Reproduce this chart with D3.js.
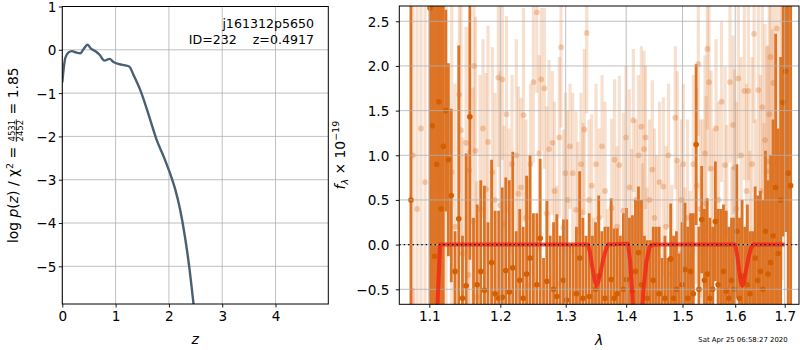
<!DOCTYPE html>
<html>
<head>
<meta charset="utf-8">
<script src="https://cdn.jsdelivr.net/npm/d3@7"></script>
<style>
  body { margin: 0; background: #fff; }
  svg { font-family: "DejaVu Sans", sans-serif; }
</style>
</head>
<body>
<svg id="chart" width="800" height="350"></svg>
<script>
// p(z) curve
const zGrid = [0, 0.056, 0.118, 0.18, 0.255, 0.337, 0.4, 0.474, 0.543, 0.63, 0.699, 0.79, 0.886, 0.96,
  1.067, 1.18, 1.255, 1.336, 1.46, 1.62, 1.77, 1.9, 2.02, 2.12, 2.21, 2.3, 2.38, 2.46, 2.5];
const logPz = [-0.75, -0.19, -0.06, -0.03, -0.06, -0.08, 0.02, 0.115, 0.02, -0.04, -0.115, -0.25, -0.21, -0.28,
  -0.33, -0.36, -0.385, -0.58, -0.92, -1.5, -2.08, -2.46, -2.85, -3.23, -3.69, -4.31, -5.0, -5.85, -6.3];

// spectrum, first orient (dark)
const darkWave = [1.0755, 1.1010, 1.1040, 1.1070, 1.1100, 1.1130, 1.1160, 1.1190, 1.1225, 1.1260,
  1.1300, 1.1352, 1.1404, 1.1456, 1.1508, 1.1560, 1.1612, 1.1664, 1.1716, 1.1768,
  1.1820, 1.1872, 1.1924, 1.1976, 1.2028, 1.2080, 1.2132, 1.2184, 1.2236, 1.2288,
  1.2340, 1.2392, 1.2444, 1.2496, 1.2548, 1.2600, 1.2652, 1.2704, 1.2756, 1.2808,
  1.2860, 1.2912, 1.2964, 1.3016, 1.3068, 1.3120, 1.3172, 1.3224, 1.3276, 1.3328,
  1.3380, 1.3432, 1.3484, 1.3536, 1.3588, 1.3640, 1.3692, 1.3744, 1.3796, 1.3848,
  1.3900, 1.3952, 1.4004, 1.4056, 1.4108, 1.4160, 1.4212, 1.4264, 1.4316, 1.4368,
  1.4420, 1.4472, 1.4524, 1.4576, 1.4628, 1.4680, 1.4732, 1.4784, 1.4836, 1.4888,
  1.4940, 1.4992, 1.5044, 1.5096, 1.5148, 1.5200, 1.5252, 1.5304, 1.5356, 1.5408,
  1.5460, 1.5512, 1.5564, 1.5616, 1.5668, 1.5720, 1.5772, 1.5824, 1.5876, 1.5928,
  1.5980, 1.6032, 1.6084, 1.6136, 1.6188, 1.6240, 1.6292, 1.6344, 1.6396, 1.6448,
  1.6500, 1.6552, 1.6604, 1.6656, 1.6708, 1.6760, 1.6812, 1.6864, 1.6916, 1.6968,
  1.7020, 1.7072, 1.7124];
const darkFlux = [0.5, 2.65, 1.33, -0.13, 0.9, 1.6, 0.4, 1.1, 1.5, 0.95,
  0.55, -0.3, 0.29, -0.6, -0.46, 1.43, -0.8, -0.45, -0.3, -0.51,
  -0.7, -0.2, -0.55, -0.6, -0.59, -0.29, -0.53, -0.26, -0.75, -0.4,
  -0.6, -0.33, -0.15, -0.7, -0.45, 0.07, -0.9, -0.41, -0.8, -0.5,
  -0.58, -0.7, -0.4, -0.62, -0.9, -0.7, -0.55, -0.15, -0.6, -0.85,
  -0.58, -0.8, -0.5, -0.35, -0.7, -0.6, -0.9, -0.39, -0.6, -0.55,
  -0.8, -0.5, -0.39, -0.9, -0.52, -0.3, -0.09, -0.45, -0.7, -0.6,
  -0.75, -0.4, -0.7, -0.55, -0.8, -0.6, -0.95, -0.16, -0.6, -0.5,
  -0.7, -0.45, -0.28, -0.6, -0.3, -0.55, 1.12, -0.5, 0.28, -0.4,
  -0.33, -0.6, -0.5, 0.26, -0.45, -0.7, -0.3, -0.52, -0.6, -0.4,
  -0.5, 0.15, -0.6, -0.35, -0.8, -0.45, -0.55, -0.7, -0.15, -0.4,
  -0.3, -0.5, 0.15, -0.33, -0.2, 0.1, 0.64, -0.1, 0.5, 1.59,
  1.94, 0.8, 0.66];
const darkErr = [5.0, 3.5, 3.0, 3.2, 3.0, 3.0, 3.0, 2.6, 1.13, 1.08,
  0.97, 0.45, 1.94, 0.7, 1.48, 1.6, 1.1, 0.9, 1.02, 1.17,
  0.95, 1.15, 0.93, 0.98, 1.23, 1.04, 1.25, 1.3, 0.9, 0.8,
  0.8, 1.1, 1.15, 1.05, 0.8, 0.89, 0.75, 0.9, 0.9, 0.75,
  0.92, 0.8, 0.68, 0.9, 0.9, 0.7, 0.75, 0.97, 0.9, 0.95,
  0.93, 0.9, 0.75, 0.9, 0.85, 0.8, 1.1, 0.91, 0.78, 0.73,
  0.9, 0.85, 0.8, 1.2, 0.85, 0.8, 0.74, 0.95, 0.8, 0.65,
  0.8, 0.6, 0.9, 0.75, 0.65, 0.7, 0.8, 0.62, 0.7, 0.65,
  0.6, 0.7, 0.75, 0.8, 0.65, 0.9, 0.9, 0.7, 0.6, 0.8,
  0.85, 0.9, 0.7, 0.67, 0.85, 1.1, 0.75, 0.9, 0.8, 0.7,
  0.8, 0.75, 0.9, 0.85, 1.0, 0.9, 0.7, 0.85, 0.8, 0.95,
  0.9, 1.0, 0.9, 1.05, 1.2, 1.3, 1.72, 1.4, 1.6, 1.5,
  1.8, 2.5, 2.2];

// spectrum, second orient (light)
const lightWave = [1.0783, 1.0836, 1.0888, 1.0943, 1.1050, 1.1104, 1.1131, 1.1182, 1.1227, 1.1306,
  1.1352, 1.1412, 1.1436, 1.1460, 1.1506, 1.1538, 1.1552, 1.1601, 1.1619, 1.1640,
  1.1657, 1.1705, 1.1748, 1.1791, 1.1820, 1.1883, 1.1922, 1.1970, 1.1995, 1.2029,
  1.2054, 1.2091, 1.2128, 1.2173, 1.2237, 1.2268, 1.2308, 1.2346, 1.2384, 1.2419,
  1.2452, 1.2495, 1.2547, 1.2586, 1.2617, 1.2664, 1.2701, 1.2737, 1.2789, 1.2824,
  1.2858, 1.2899, 1.2926, 1.2962, 1.2997, 1.3026, 1.3069, 1.3112, 1.3166, 1.3195,
  1.3246, 1.3279, 1.3300, 1.3339, 1.3377, 1.3421, 1.3448, 1.3492, 1.3542, 1.3592,
  1.3642, 1.3683, 1.3753, 1.3801, 1.3843, 1.3882, 1.3951, 1.3997, 1.4054, 1.4095,
  1.4123, 1.4170, 1.4213, 1.4262, 1.4283, 1.4309, 1.4335, 1.4362, 1.4405, 1.4455,
  1.4494, 1.4533, 1.4583, 1.4651, 1.4700, 1.4745, 1.4803, 1.4869, 1.4905, 1.4941,
  1.4981, 1.5014, 1.5045, 1.5091, 1.5138, 1.5200, 1.5263, 1.5293, 1.5334, 1.5376,
  1.5419, 1.5438, 1.5463, 1.5495, 1.5533, 1.5577, 1.5628, 1.5676, 1.5734, 1.5802,
  1.5834, 1.5898, 1.5931, 1.5957, 1.5986, 1.6025, 1.6061, 1.6114, 1.6180, 1.6224,
  1.6260, 1.6289, 1.6333, 1.6373, 1.6403, 1.6459, 1.6503, 1.6540, 1.6570, 1.6594,
  1.6629, 1.6655, 1.6682, 1.6706, 1.6743, 1.6768, 1.6799, 1.6834, 1.6867, 1.6902,
  1.6944];
const lightFlux = [1.0, 0.4, 1.3, 0.7, 1.1, 0.8, 0.15, 1.9, 0.9, 0.81,
  0.2, 1.68, 1.28, -0.1, 1.14, -0.34, 0.83, 0.26, 2.0, 1.05,
  -0.59, 0.4, 1.3, 0.62, 1.15, 0.81, 0.5, 1.87, 0.44, 1.85,
  0.23, 1.46, 0.0, 0.9, 1.0, 0.57, 0.64, 1.45, 0.3, -0.45,
  0.9, 1.82, 2.6, 1.02, 1.85, 1.75, 0.35, 1.07, 1.14, 0.6,
  -0.44, 1.2, 2.21, 0.19, 0.8, 0.5, 1.1, 0.8, 0.39, 0.15,
  0.9, 0.36, 1.29, 2.37, 0.5, 0.66, -0.6, 0.9, 0.3, 1.1,
  0.6, -0.6, 0.41, 0.95, 0.2, 0.89, 0.38, 1.2, 0.64, -0.03,
  1.39, 0.5, 1.0, 1.32, -0.09, 1.07, 1.2, -0.26, 0.5, 0.84,
  0.3, 0.0, 0.7, 0.65, 0.2, 1.0, -0.33, 1.42, 0.94, -0.1,
  0.5, 0.9, -0.26, 0.3, -0.3, 0.9, 0.66, 2.02, 0.4, 0.2,
  1.02, 0.46, 2.19, 1.82, 0.85, 0.1, 1.3, 0.5, 1.6, 0.89,
  0.14, 1.82, -0.33, 1.34, 0.86, 0.4, 1.86, 1.0, 1.72, 0.6,
  1.72, -0.05, 0.9, 2.36, 0.1, 1.73, 0.6, 1.54, 0.06, 1.17,
  0.82, 0.93, 1.46, 2.1, 0.91, 1.81, -0.14, 2.42, -0.56, 1.0,
  1.6];
const lightErr = [4.0, 4.0, 3.5, 3.5, 2.5, 2.5, 2.2, 1.2, 2.0, 1.9,
  1.6, 1.1, 1.4, 1.3, 1.3, 1.4, 1.6, 1.5, 1.0, 1.5,
  1.3, 1.5, 1.0, 1.3, 1.3, 1.4, 1.2, 1.0, 1.5, 0.9,
  1.1, 1.1, 1.3, 1.0, 1.3, 1.2, 1.0, 1.2, 1.1, 1.2,
  0.9, 0.9, 0.9, 1.1, 0.8, 0.9, 1.2, 1.0, 0.8, 1.0,
  1.1, 0.9, 0.9, 1.1, 0.9, 1.0, 0.7, 0.9, 1.1, 1.0,
  0.8, 1.0, 0.9, 0.9, 0.9, 0.8, 0.9, 0.9, 1.0, 0.8,
  1.0, 1.0, 1.0, 0.9, 0.9, 1.0, 1.1, 0.8, 1.1, 1.1,
  0.8, 0.9, 0.9, 0.9, 1.0, 1.1, 0.8, 0.9, 0.9, 1.0,
  1.0, 1.0, 0.9, 1.0, 0.9, 0.8, 1.0, 0.8, 1.0, 1.0,
  0.9, 0.9, 0.9, 1.1, 0.9, 1.0, 1.1, 0.8, 1.0, 1.2,
  1.1, 1.2, 0.9, 1.0, 1.1, 1.2, 1.0, 1.1, 0.9, 1.1,
  1.2, 0.9, 1.2, 1.0, 1.1, 1.2, 0.9, 1.1, 1.0, 1.2,
  1.0, 1.1, 1.2, 1.0, 1.3, 1.1, 1.3, 1.2, 1.3, 1.3,
  1.4, 1.3, 1.3, 1.2, 1.5, 1.4, 1.5, 1.4, 1.6, 1.8,
  2.0];

// best-fit model
const modelWave = [1.1085, 1.1145, 1.2, 1.3,
  1.336, 1.339, 1.343, 1.347, 1.350, 1.353, 1.357, 1.361, 1.365, 1.369,
  1.403, 1.407, 1.411, 1.416, 1.421, 1.426, 1.430, 1.435, 1.441, 1.447,
  1.5, 1.600, 1.604, 1.608, 1.611, 1.614, 1.617, 1.621, 1.626, 1.631, 1.636, 1.700];
const modelFlux = [-1.2, 0, 0, 0,
  0, -0.08, -0.25, -0.4, -0.46, -0.42, -0.3, -0.17, -0.07, 0,
  0.01, -0.2, -0.6, -1.2, -1.4, -0.9, -0.5, -0.2, -0.02, 0,
  0, 0, -0.12, -0.3, -0.42, -0.46, -0.42, -0.3, -0.15, -0.04, 0, 0];
const model2Wave = [1.0770, 1.0785, 1.0800];
const model2Flux = [-1.0, -0.49, -1.0];

const zTicks = [0, 1, 2, 3, 4];
const pTicks = [-5, -4, -3, -2, -1, 0, 1];
const lamTicks = [1.1, 1.2, 1.3, 1.4, 1.5, 1.6, 1.7];
const fTicks = [-0.5, 0, 0.5, 1, 1.5, 2, 2.5];

const svg = d3.select('#chart');
const defs = svg.append('defs');
const intFmt = d3.format('d');

// ---------- left panel ----------
const L = { left: 62.3, right: 328.3, top: 6.5, bottom: 304 };
const xz = d3.scaleLinear().domain([0, 4.99]).range([L.left, L.right]);
const yz = d3.scaleLinear().domain([-5.87, 1]).range([L.bottom, L.top]);

defs.append('clipPath').attr('id', 'clipL').append('rect')
  .attr('x', L.left).attr('y', L.top).attr('width', L.right - L.left).attr('height', L.bottom - L.top);

const gl = svg.append('g');
gl.append('g').selectAll('line').data(zTicks).join('line')
  .attr('x1', d => xz(d)).attr('x2', d => xz(d)).attr('y1', L.top).attr('y2', L.bottom)
  .attr('stroke', '#b0b0b0').attr('stroke-width', 0.8);
gl.append('g').selectAll('line').data(pTicks).join('line')
  .attr('x1', L.left).attr('x2', L.right).attr('y1', d => yz(d)).attr('y2', d => yz(d))
  .attr('stroke', '#b0b0b0').attr('stroke-width', 0.8);

gl.append('path')
  .datum(zGrid.map((z, i) => [z, logPz[i]]))
  .attr('clip-path', 'url(#clipL)')
  .attr('fill', 'none').attr('stroke', '#4a5f72').attr('stroke-width', 2.4)
  .attr('d', d3.line().x(d => xz(d[0])).y(d => yz(d[1])).curve(d3.curveMonotoneX));

gl.append('text').attr('x', 314).attr('y', 28).attr('text-anchor', 'end')
  .attr('font-size', 12.6).text('j161312p5650');
gl.append('text').attr('x', 314).attr('y', 43.5).attr('text-anchor', 'end')
  .attr('font-size', 12.6).attr('xml:space', 'preserve').text('ID=232    z=0.4917');

const axZ = gl.append('g').attr('transform', `translate(0,${L.bottom})`)
  .call(d3.axisBottom(xz).tickValues(zTicks).tickSize(3.5).tickPadding(3.5).tickFormat(intFmt));
const axP = gl.append('g').attr('transform', `translate(${L.left},0)`)
  .call(d3.axisLeft(yz).tickValues(pTicks).tickSize(3.5).tickPadding(2.5).tickFormat(intFmt));
[axZ, axP].forEach(a => {
  a.select('.domain').remove();
  a.selectAll('text').attr('font-size', 13.6).attr('fill', '#000').attr('font-family', 'DejaVu Sans');
  a.selectAll('line').attr('stroke', '#000').attr('stroke-width', 0.9);
});
axP.selectAll('text').attr('dy', '0.36em');
gl.append('rect').attr('x', L.left).attr('y', L.top).attr('width', L.right - L.left)
  .attr('height', L.bottom - L.top).attr('fill', 'none').attr('stroke', '#000').attr('stroke-width', 1);

gl.append('text').attr('x', (L.left + L.right) / 2).attr('y', 344).attr('text-anchor', 'middle')
  .attr('font-size', 14).attr('font-style', 'italic').text('z');

// y label with the stacked fraction
const yl = gl.append('g');
const t1 = yl.append('text').attr('font-size', 13.9).attr('x', 0).attr('y', 0).attr('xml:space', 'preserve');
t1.append('tspan').text('log ');
t1.append('tspan').attr('font-style', 'italic').text('p');
t1.append('tspan').text('(');
t1.append('tspan').attr('font-style', 'italic').text('z');
t1.append('tspan').text(') / χ');
t1.append('tspan').attr('font-size', 9.5).attr('dy', -5).text('2');
t1.append('tspan').attr('dy', 5).text(' = ');
const w1 = t1.node().getComputedTextLength();
const num = yl.append('text').attr('font-size', 8.5).attr('y', -3).attr('text-anchor', 'middle').text('4531');
const den = yl.append('text').attr('font-size', 8.5).attr('y', 5.8).attr('text-anchor', 'middle').text('2452');
const wf = Math.max(num.node().getComputedTextLength(), den.node().getComputedTextLength());
num.attr('x', w1 + wf / 2 + 1);
den.attr('x', w1 + wf / 2 + 1);
yl.append('line').attr('x1', w1 + 0.5).attr('x2', w1 + wf + 1.5).attr('y1', -1.2).attr('y2', -1.2)
  .attr('stroke', '#000').attr('stroke-width', 0.7);
const t2 = yl.append('text').attr('font-size', 13.9).attr('x', w1 + wf + 2)
  .attr('xml:space', 'preserve').text(' = 1.85');
const wTot = w1 + wf + 2 + t2.node().getComputedTextLength();
yl.attr('transform', `translate(17.5,${(L.top + L.bottom) / 2}) rotate(-90) translate(${-wTot / 2},0)`);

// ---------- right panel ----------
const R = { left: 399.3, right: 799, top: 6, bottom: 304.3 };
const xl = d3.scaleLog().domain([1.0603, 1.73]).range([R.left, R.right]);
const yf = d3.scaleLinear().domain([-0.668, 2.671]).range([R.bottom, R.top]);

defs.append('clipPath').attr('id', 'clipR').append('rect')
  .attr('x', R.left).attr('y', R.top).attr('width', R.right - R.left).attr('height', R.bottom - R.top);

const gr = svg.append('g');
const plot = gr.append('g').attr('clip-path', 'url(#clipR)');

const light = lightWave.map((w, i) => ({ w, f: lightFlux[i], e: lightErr[i] }));
const dark = darkWave.map((w, i) => ({ w, f: darkFlux[i], e: darkErr[i] }));
const orange = '#dd7425';

plot.append('g').selectAll('line').data(light).join('line')
  .attr('x1', d => xl(d.w)).attr('x2', d => xl(d.w))
  .attr('y1', d => yf(d.f - d.e)).attr('y2', d => yf(d.f + d.e))
  .attr('stroke', orange).attr('stroke-opacity', 0.22).attr('stroke-width', 3.2);
plot.append('g').selectAll('circle').data(light).join('circle')
  .attr('cx', d => xl(d.w)).attr('cy', d => yf(d.f)).attr('r', 2.9)
  .attr('fill', '#d9691a').attr('fill-opacity', 0.3);

plot.append('g').selectAll('line').data(dark).join('line')
  .attr('x1', d => xl(d.w)).attr('x2', d => xl(d.w))
  .attr('y1', d => yf(d.f - d.e)).attr('y2', d => yf(d.f + d.e))
  .attr('stroke', orange).attr('stroke-width', 2.8);
plot.append('g').selectAll('circle').data(dark).join('circle')
  .attr('cx', d => xl(d.w)).attr('cy', d => yf(d.f)).attr('r', 2.8)
  .attr('fill', '#d35f00');

// grid sits over the data but under the model and the zero line
plot.append('g').selectAll('line').data(lamTicks).join('line')
  .attr('x1', d => xl(d)).attr('x2', d => xl(d)).attr('y1', R.top).attr('y2', R.bottom)
  .attr('stroke', '#b0b0b0').attr('stroke-width', 0.8);
plot.append('g').selectAll('line').data(fTicks).join('line')
  .attr('x1', R.left).attr('x2', R.right).attr('y1', d => yf(d)).attr('y2', d => yf(d))
  .attr('stroke', '#b0b0b0').attr('stroke-width', 0.8);

const modelLine = d3.line().x(d => xl(d[0])).y(d => yf(d[1]));
plot.append('path').datum(model2Wave.map((w, i) => [w, model2Flux[i]]))
  .attr('fill', 'none').attr('stroke', 'red').attr('stroke-opacity', 0.15).attr('stroke-width', 3)
  .attr('d', modelLine);
plot.append('path').datum(modelWave.map((w, i) => [w, modelFlux[i]]))
  .attr('fill', 'none').attr('stroke', '#f2221a').attr('stroke-opacity', 0.8).attr('stroke-width', 4)
  .attr('stroke-linejoin', 'round')
  .attr('d', modelLine);

plot.append('line').attr('x1', R.left).attr('x2', R.right).attr('y1', yf(0)).attr('y2', yf(0))
  .attr('stroke', '#000').attr('stroke-width', 1.4).attr('stroke-dasharray', '1.4,3');

const axL = gr.append('g').attr('transform', `translate(0,${R.bottom})`)
  .call(d3.axisBottom(xl).tickValues(lamTicks).tickSize(3.5).tickPadding(3.5).tickFormat(d3.format('.1f')));
const axF = gr.append('g').attr('transform', `translate(${R.left},0)`)
  .call(d3.axisLeft(yf).tickValues(fTicks).tickSize(3.5).tickPadding(6.5).tickFormat(d3.format('.1f')));
[axL, axF].forEach(a => {
  a.select('.domain').remove();
  a.selectAll('text').attr('font-size', 13.6).attr('fill', '#000').attr('font-family', 'DejaVu Sans');
  a.selectAll('line').attr('stroke', '#000').attr('stroke-width', 0.9);
});
axF.selectAll('text').attr('dy', '0.36em');
gr.append('rect').attr('x', R.left).attr('y', R.top).attr('width', R.right - R.left)
  .attr('height', R.bottom - R.top).attr('fill', 'none').attr('stroke', '#000').attr('stroke-width', 1);

gr.append('text').attr('x', (R.left + R.right) / 2).attr('y', 345).attr('text-anchor', 'middle')
  .attr('font-size', 14).attr('font-style', 'italic').text('λ');

const fl = gr.append('text').attr('font-size', 13.9).attr('text-anchor', 'middle')
  .attr('transform', `translate(345,${(R.top + R.bottom) / 2}) rotate(-90)`);
fl.append('tspan').attr('font-style', 'italic').text('f');
fl.append('tspan').attr('font-size', 9.5).attr('font-style', 'italic').attr('dy', 3).text('λ');
fl.append('tspan').attr('dy', -3).attr('xml:space', 'preserve').text(' × 10');
fl.append('tspan').attr('font-size', 9.5).attr('dy', -6).text('−19');

svg.append('text').attr('x', 698.3).attr('y', 342).attr('font-size', 6.9)
  .text('Sat Apr 25 06:58:27 2020');
</script>
</body>
</html>
